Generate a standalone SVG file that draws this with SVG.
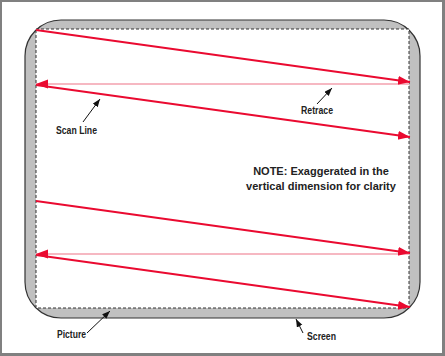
<svg xmlns="http://www.w3.org/2000/svg" width="445" height="356" viewBox="0 0 445 356">
<defs>
<style>
.scan{stroke:#ea0a30;stroke-width:2;fill:none}
.retrace{stroke:#f6b8c2;stroke-width:2;fill:none}
.lbl{font-family:"Liberation Sans",Arial,sans-serif;font-weight:bold;font-size:10.5px;fill:#222}
.note{font-family:"Liberation Sans",Arial,sans-serif;font-weight:bold;font-size:11px;fill:#222;text-anchor:middle}
.ptr{stroke:#111;stroke-width:1;fill:none}
</style>
<marker id="ar" markerUnits="userSpaceOnUse" markerWidth="13" markerHeight="10" refX="12" refY="4.5" orient="auto">
<path d="M0,0 L12,4.5 L0,9 z" fill="#ea0a30"/>
</marker>
<marker id="ab" markerUnits="userSpaceOnUse" markerWidth="9" markerHeight="7" refX="8" refY="3" orient="auto">
<path d="M0,0 L8,3 L0,6 z" fill="#111"/>
</marker>
</defs>
<rect x="0" y="0" width="445" height="356" fill="#808080"/>
<rect x="2" y="2" width="440" height="351" fill="#fff"/>
<g id="screen">
<rect x="25" y="20" width="395" height="298" rx="36" ry="36" fill="#c0c0c0" stroke="#333" stroke-width="1.2"/>
</g>
<g id="picture">
<rect x="36" y="29" width="373" height="279" fill="#fff"/>
<rect x="36" y="29" width="373" height="279" fill="none" stroke="#333" stroke-width="1" stroke-dasharray="3 2"/>
</g>
<g id="connectors">
<line class="retrace" x1="409" y1="84" x2="36" y2="84" marker-end="url(#ar)"/>
<line class="retrace" x1="409" y1="254" x2="36" y2="254" marker-end="url(#ar)"/>
<line class="scan" x1="36" y1="30" x2="410" y2="82" marker-end="url(#ar)"/>
<line class="scan" x1="36" y1="85" x2="410" y2="137" marker-end="url(#ar)"/>
<line class="scan" x1="36" y1="201" x2="410" y2="253" marker-end="url(#ar)"/>
<line class="scan" x1="36" y1="255" x2="410" y2="307" marker-end="url(#ar)"/>
<line class="ptr" x1="83" y1="122" x2="100" y2="99" marker-end="url(#ab)"/>
<line class="ptr" x1="317" y1="104" x2="332" y2="88" marker-end="url(#ab)"/>
<line class="ptr" x1="87" y1="333" x2="110" y2="311" marker-end="url(#ab)"/>
<line class="ptr" x1="303" y1="333" x2="296" y2="319" marker-end="url(#ab)"/>
</g>
<g id="labels">
<text class="lbl" x="56" y="134" textLength="41" lengthAdjust="spacingAndGlyphs">Scan Line</text>
<text class="lbl" x="301" y="114" textLength="32" lengthAdjust="spacingAndGlyphs">Retrace</text>
<text class="lbl" x="57" y="338" textLength="29" lengthAdjust="spacingAndGlyphs">Picture</text>
<text class="lbl" x="307" y="340" textLength="29" lengthAdjust="spacingAndGlyphs">Screen</text>
<text class="note" x="321" y="175">NOTE: Exaggerated in the</text>
<text class="note" x="321" y="190">vertical dimension for clarity</text>
</g>
</svg>
